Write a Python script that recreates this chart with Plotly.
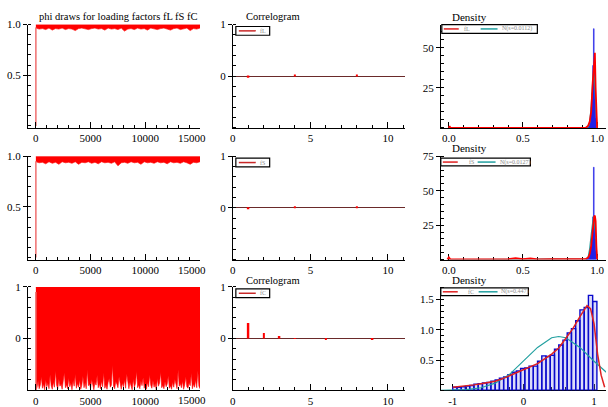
import plotly.graph_objects as go
from plotly.subplots import make_subplots

W, H = 608, 407
SERIF = "Liberation Serif, Times New Roman, Times, serif"

# ---------------- data ----------------
series_names = ["fL", "fS", "fC"]
normal_labels = ["N(s=0.0112)", "N(s=0.0127)", "N(s=0.447)"]

# MCMC trace envelopes
iters_coarse = list(range(0, 15001, 300))
iters_fine = list(range(0, 15001, 100))
trace_max = [1.0, 1.0, 1.0]
fL_low = [0.965, 0.955, 0.96, 0.95, 0.965, 0.945, 0.96, 0.955, 0.965, 0.95,
          0.96, 0.955, 0.94, 0.96, 0.965, 0.955, 0.95, 0.96, 0.965, 0.955,
          0.96, 0.945, 0.965, 0.955, 0.96, 0.95, 0.965, 0.935, 0.955, 0.96,
          0.95, 0.965, 0.955, 0.96, 0.945, 0.965, 0.955, 0.95, 0.96, 0.965,
          0.955, 0.945, 0.96, 0.965, 0.95, 0.955, 0.965, 0.94, 0.96, 0.955, 0.965]
fS_low = [0.945, 0.935, 0.94, 0.925, 0.945, 0.93, 0.94, 0.92, 0.945, 0.935,
          0.94, 0.93, 0.945, 0.92, 0.94, 0.935, 0.945, 0.93, 0.94, 0.925,
          0.945, 0.935, 0.94, 0.93, 0.945, 0.905, 0.935, 0.94, 0.93, 0.945,
          0.935, 0.94, 0.92, 0.945, 0.935, 0.94, 0.93, 0.945, 0.935, 0.94,
          0.925, 0.945, 0.935, 0.94, 0.93, 0.945, 0.935, 0.92, 0.94, 0.935, 0.945]
fC_low = [-1.0, -0.95, -0.82, -0.97, -0.9, -0.74, -0.96, -0.88, -0.99, -0.8,
          -0.93, -0.86, -0.97, -0.7, -0.91, -0.98, -0.84, -0.94, -0.62, -0.9,
          -0.97, -0.78, -0.92, -0.88, -0.98, -0.83, -0.66, -0.95, -0.89, -0.97,
          -0.76, -0.93, -0.86, -0.99, -0.81, -0.92, -0.69, -0.96, -0.87, -0.94,
          -0.8, -0.98, -0.9, -0.73, -0.95, -0.85, -0.97, -0.6, -0.91, -0.88,
          -0.96, -0.79, -0.93, -0.99, -0.84, -0.9, -0.71, -0.95, -0.87, -0.97,
          -0.82, -0.93, -0.66, -0.96, -0.89, -0.98, -0.85, -0.77, -0.94, -0.9,
          -0.51, -0.92, -0.97, -0.83, -0.88, -0.95, -0.74, -0.91, -0.98, -0.86,
          -0.93, -0.8, -0.96, -0.68, -0.9, -0.97, -0.84, -0.92, -0.99, -0.78,
          -0.94, -0.87, -0.63, -0.95, -0.89, -0.97, -0.82, -0.91, -0.75, -0.96,
          -0.88, -0.98, -0.85, -0.93, -0.7, -0.9, -0.96, -0.81, -0.94, -0.87,
          -0.99, -0.77, -0.92, -0.86, -0.65, -0.95, -0.9, -0.97, -0.83, -0.93,
          -0.88, -0.72, -0.96, -0.91, -0.98, -0.84, -0.94, -0.79, -0.9, -0.97,
          -0.6, -0.92, -0.87, -0.95, -0.82, -0.98, -0.89, -0.74, -0.93, -0.96,
          -0.85, -0.91, -0.67, -0.97, -0.88, -0.94, -0.8, -0.95, -0.62, -0.92, -0.97]
init_iter = [0, 1]
init_vals = [[0.0, 0.97], [0.0, 0.95], [-1.0, 0.9]]

# Correlograms (lags 1..10)
lags = [1, 2, 3, 4, 5, 6, 7, 8, 9, 10]
acf_fL = [-0.03, 0.0, 0.0, 0.015, 0.0, 0.0, 0.0, 0.015, 0.0, 0.0]
acf_fS = [-0.01, 0.0, 0.0, 0.015, 0.0, 0.0, 0.0, 0.015, 0.0, 0.0]
acf_fC = [0.30, 0.11, 0.05, 0.01, 0.0, -0.02, 0.0, 0.0, -0.02, 0.0]

# Densities: histograms
hist_fL_x = [0.9325, 0.9375, 0.9425, 0.9475, 0.9525, 0.9575, 0.9625, 0.9675,
             0.9725, 0.9775, 0.9825, 0.9875, 0.9925]
hist_fL_y = [0.3, 0.8, 1.5, 3, 5, 8, 13, 22, 39, 62, 35, 18, 6]
hist_fS_x = [0.9275, 0.9325, 0.9375, 0.9425, 0.9475, 0.9525, 0.9575, 0.9625,
             0.9675, 0.9725, 0.9775, 0.9825, 0.9875, 0.9925]
hist_fS_y = [0.3, 0.6, 1.2, 2, 3.5, 6, 9, 14, 20, 31, 67, 28, 15, 6]
hist_fC_x = [-0.97, -0.91, -0.85, -0.79, -0.73, -0.67, -0.61, -0.55, -0.49, -0.43,
             -0.37, -0.31, -0.25, -0.19, -0.13, -0.07, -0.01, 0.05, 0.11, 0.17,
             0.23, 0.29, 0.35, 0.41, 0.47, 0.53, 0.59, 0.65, 0.71, 0.77,
             0.83, 0.89, 0.95, 1.01]
hist_fC_y = [0.05, 0.05, 0.06, 0.07, 0.08, 0.10, 0.11, 0.12, 0.13, 0.15,
             0.17, 0.20, 0.22, 0.26, 0.30, 0.32, 0.36, 0.37, 0.40, 0.40,
             0.48, 0.57, 0.56, 0.58, 0.68, 0.75, 0.83, 0.95, 1.02, 1.15,
             1.33, 1.37, 1.57, 1.47]
hist_width = [0.005, 0.005, 0.06]

# Kernel density curves
kde_fL_x = [0.0, 0.005, 0.01, 0.92, 0.93, 0.94, 0.95, 0.96, 0.97, 0.975, 0.98, 0.985, 0.99, 0.995, 1.0]
kde_fL_y = [0.0, 1.2, 0.0, 0.0, 0.5, 1.5, 4, 10, 28, 36, 40, 47, 25, 8, 0]
kde_fS_x = [-0.01, 0.0, 0.01, 0.1, 0.2, 0.3, 0.4, 0.45, 0.5, 0.55, 0.6, 0.7, 0.8, 0.9,
            0.92, 0.94, 0.95, 0.96, 0.97, 0.975, 0.98, 0.985, 0.99, 0.995, 1.0]
kde_fS_y = [0, 1.6, 0.2, 0.3, 0.5, 0.2, 0.4, 1.0, 0.3, 0.8, 0.2, 0.3, 0.5, 0.3,
            0.3, 1.5, 4, 10, 24, 30, 31, 32, 28, 10, 0]
kde_fC_x = [-1.0, -0.9, -0.8, -0.7, -0.6, -0.5, -0.4, -0.3, -0.2, -0.1, 0.0, 0.1,
            0.2, 0.3, 0.4, 0.5, 0.6, 0.7, 0.8, 0.9, 0.95, 1.0, 1.05, 1.1, 1.15]
kde_fC_y = [0.05, 0.06, 0.07, 0.09, 0.11, 0.13, 0.15, 0.19, 0.24, 0.29, 0.34, 0.38,
            0.44, 0.52, 0.60, 0.70, 0.85, 1.02, 1.22, 1.40, 1.35, 1.10, 0.60, 0.25, 0.05]

# Normal reference curves
norm_fL_x = [0.0, 0.93, 0.94, 0.95, 0.96, 0.965, 0.97, 0.975, 0.98, 0.985, 0.99, 0.995, 1.0]
norm_fL_y = [0.0, 0.1, 0.6, 3.1, 14, 24.3, 32.4, 35.6, 32.4, 24.3, 14, 6, 0]
norm_fS_x = [0.0, 0.92, 0.93, 0.94, 0.95, 0.96, 0.965, 0.97, 0.975, 0.98, 0.985, 0.99, 0.995, 1.0]
norm_fS_y = [0.0, 0.1, 0.5, 2.2, 8, 18, 24, 29, 31.4, 29, 24, 18, 8, 0]
norm_fC_x = [-1.2, -1.0, -0.8, -0.6, -0.4, -0.2, 0.0, 0.2, 0.4, 0.5, 0.6, 0.8, 1.0, 1.2]
norm_fC_y = [0.0, 0.003, 0.013, 0.043, 0.118, 0.26, 0.48, 0.71, 0.87, 0.89, 0.87, 0.71, 0.48, 0.27]

# ---------------- figure ----------------
RED = "#ff0000"
TEAL = "#22a0a0"
BLUE = "#0a0acc"

fig = make_subplots(rows=3, cols=3)

def px(x):
    return x / W

def py(y):
    return 1 - y / H

col_dom = [(25, 198), (231, 404), (440, 606)]
row_dom = [(19, 125), (154, 260), (288, 394)]

lows = [fL_low, fS_low, fC_low]
low_iters = [iters_coarse, iters_coarse, iters_fine]
acfs = [acf_fL, acf_fS, acf_fC]
hx = [hist_fL_x, hist_fS_x, hist_fC_x]
hy = [hist_fL_y, hist_fS_y, hist_fC_y]
kx = [kde_fL_x, kde_fS_x, kde_fC_x]
ky = [kde_fL_y, kde_fS_y, kde_fC_y]
nx = [norm_fL_x, norm_fS_x, norm_fC_x]
ny = [norm_fL_y, norm_fS_y, norm_fC_y]

for r in range(3):
    row = r + 1
    xs = low_iters[r]
    fig.add_trace(go.Scatter(x=xs, y=[trace_max[r]] * len(xs), mode="lines",
                             line=dict(color=RED, width=0.5), showlegend=False,
                             hoverinfo="skip"), row=row, col=1)
    fig.add_trace(go.Scatter(x=xs, y=lows[r], mode="lines", fill="tonexty",
                             fillcolor=RED, line=dict(color=RED, width=0.6),
                             showlegend=False, hoverinfo="skip"), row=row, col=1)
    fig.add_trace(go.Scatter(x=init_iter, y=init_vals[r], mode="lines",
                             line=dict(color="#f07070", width=1.5),
                             showlegend=False), row=row, col=1)
    fig.add_trace(go.Bar(x=lags, y=acfs[r], width=0.12, marker=dict(color=RED, line=dict(width=0)),
                         showlegend=False), row=row, col=2)
    fig.add_trace(go.Scatter(x=nx[r], y=ny[r], mode="lines",
                             line=dict(color=TEAL, width=1.2), showlegend=False),
                  row=row, col=3)
    if r < 2:
        bar_marker = dict(color="#1a1ae6", line=dict(color="#1a1ae6", width=0.5))
    else:
        bar_marker = dict(color="rgba(140,140,235,0.30)", line=dict(color=BLUE, width=1.4))
    fig.add_trace(go.Bar(x=hx[r], y=hy[r], width=hist_width[r], marker=bar_marker,
                         showlegend=False), row=row, col=3)
    fig.add_trace(go.Scatter(x=kx[r], y=ky[r], mode="lines",
                             line=dict(color="#e02020" if r == 2 else RED, width=1.8 if r < 2 else 1.5),
                             showlegend=False), row=row, col=3)

fig.update_layout(barmode="overlay")

tickfont = dict(family=SERIF, size=11, color="black")

def axis_style(ax, **kw):
    base = dict(showline=True, linecolor="black", linewidth=1, mirror=False,
                showgrid=False, zeroline=False, tickfont=tickfont,
                tickcolor="black", ticklen=5, ticks="inside", fixedrange=True)
    base.update(kw)
    fig.update_layout({ax: base})

y_specs = {
    1: dict(range=[-0.02, 1.0], tickvals=[0.5, 1.0], ticktext=["0.5", "1.0"]),
    2: dict(range=[-0.02, 1.0], tickvals=[0.5, 1.0], ticktext=["0.5", "1.0"]),
    3: dict(range=[-1.0, 1.0], tickvals=[0, 1], ticktext=["0", "1"]),
}
dens_y = {
    1: dict(range=[0, 64.6], tickvals=[25, 50], ticktext=["25", "50"], minor_d=5),
    2: dict(range=[0, 75], tickvals=[25, 50, 75], ticktext=["25", "50", "75"], minor_d=5),
    3: dict(range=[0, 1.71], tickvals=[0.5, 1.0, 1.5], ticktext=["0.5", "1.0", "1.5"], minor_d=0.1),
}

for r in range(3):
    for c in range(3):
        idx = r * 3 + c + 1
        xa = "xaxis" if idx == 1 else f"xaxis{idx}"
        ya = "yaxis" if idx == 1 else f"yaxis{idx}"
        xd = [px(col_dom[c][0]), px(col_dom[c][1])]
        yd = [py(row_dom[r][1]), py(row_dom[r][0])]
        if c == 0:
            axis_style(xa, domain=xd, range=[-730, 15000],
                       tickvals=[0, 5000, 10000, 15000], ticktext=["0", "5000", "10000", ""],
                       ticklen=6, minor=dict(dtick=1000, tick0=0, ticks="inside", ticklen=3, tickcolor="black"))
            ys = y_specs[r + 1]
            axis_style(ya, domain=yd, range=ys["range"], tickvals=ys["tickvals"],
                       ticktext=ys["ticktext"], ticks="outside", ticklen=4,
                       minor=dict(dtick=0.1 if r < 2 else 0.2, tick0=0, ticks="inside", ticklen=3, tickcolor="black"))
        elif c == 1:
            axis_style(xa, domain=xd, range=[0, 11.1], tickvals=[0, 5, 10],
                       ticktext=["0", "5", "10"], ticklen=6,
                       minor=dict(dtick=1, tick0=0, ticks="inside", ticklen=3, tickcolor="black"))
            axis_style(ya, domain=yd, range=[-1, 1], tickvals=[0, 1], ticktext=["0", "1"],
                       ticks="outside", ticklen=4, zeroline=True, zerolinecolor="#6a2a2a",
                       zerolinewidth=1,
                       minor=dict(dtick=0.2, tick0=0, ticks="inside", ticklen=3, tickcolor="black"))
        else:
            if r < 2:
                axis_style(xa, domain=xd, range=[-0.054, 1.06], tickvals=[0, 0.5, 1.0],
                           ticktext=["0.0", "0.5", "1.0"], ticklen=6, layer="below traces",
                           minor=dict(dtick=0.1, tick0=0, ticks="inside", ticklen=3, tickcolor="black"))
            else:
                axis_style(xa, domain=xd, range=[-1.169, 1.169], tickvals=[-1, 0, 1],
                           ticktext=["-1", "0", "1"], ticklen=6, layer="below traces",
                           minor=dict(dtick=0.2, tick0=0, ticks="inside", ticklen=3, tickcolor="black"))
            ds = dens_y[r + 1]
            axis_style(ya, domain=yd, range=ds["range"], tickvals=ds["tickvals"],
                       ticktext=ds["ticktext"], ticks="outside", ticklen=4,
                       minor=dict(dtick=ds["minor_d"], tick0=0, ticks="inside", ticklen=3, tickcolor="black"))

annotations = []
shapes = []

def title(text, x, y, size=11):
    annotations.append(dict(text=text, x=px(x), y=py(y), xref="paper", yref="paper",
                            xanchor="left", yanchor="middle", showarrow=False,
                            font=dict(family=SERIF, size=size, color="black")))

title("phi draws for loading factors fL fS fC", 34, 11, 10.5)
title("Correlogram", 242, 11, 10.5)
title("Correlogram", 242, 281, 10.5)
title("Density", 449, 11, 11)
title("Density", 449, 146, 11)
title("Density", 449, 281, 11)

for r in range(3):
    idx = r * 3 + 1
    xr = "x" if idx == 1 else f"x{idx}"
    annotations.append(dict(text="15000", x=15000, y=py(row_dom[r][1] + 2), xref=xr, yref="paper",
                            xanchor="right", yanchor="top", xshift=8, showarrow=False,
                            font=tickfont))

def legend(box, items, ytop, ybot):
    shapes.append(dict(type="rect", xref="paper", yref="paper",
                       x0=px(box[0]), x1=px(box[1]), y0=py(ybot), y1=py(ytop),
                       line=dict(color="black", width=1.2), fillcolor="white", layer="above"))
    ym = (ytop + ybot) / 2
    for (lx0, lx1, color, text, tx) in items:
        shapes.append(dict(type="line", xref="paper", yref="paper",
                           x0=px(lx0), x1=px(lx1), y0=py(ym), y1=py(ym),
                           line=dict(color=color, width=1.5), layer="above"))
        annotations.append(dict(text=text, x=px(tx), y=py(ym), xref="paper", yref="paper",
                                xanchor="left", yanchor="middle", showarrow=False,
                                font=dict(family=SERIF, size=6, color="#8c8c8c")))

for r in range(3):
    top = row_dom[r][0]
    legend((234, 268), [(237, 254, "#c82828", series_names[r], 256)], top + 2, top + 11)
legend((441, 537), [(443, 458, "#e02020", series_names[0], 461),
                    (480, 497, TEAL, normal_labels[0], 499)], 19, 28)
legend((440, 530), [(442, 457, "#e02020", series_names[1], 466),
                    (477, 495, TEAL, normal_labels[1], 497)], 156, 164)
legend((440, 528), [(442, 457, "#e02020", series_names[2], 465),
                    (478, 497, TEAL, normal_labels[2], 498)], 289, 297)

fig.update_layout(width=W, height=H, margin=dict(l=0, r=0, t=0, b=0),
                  paper_bgcolor="white", plot_bgcolor="white",
                  font=dict(family=SERIF),
                  annotations=annotations, shapes=shapes, showlegend=False)

fig.write_html("out.html")
